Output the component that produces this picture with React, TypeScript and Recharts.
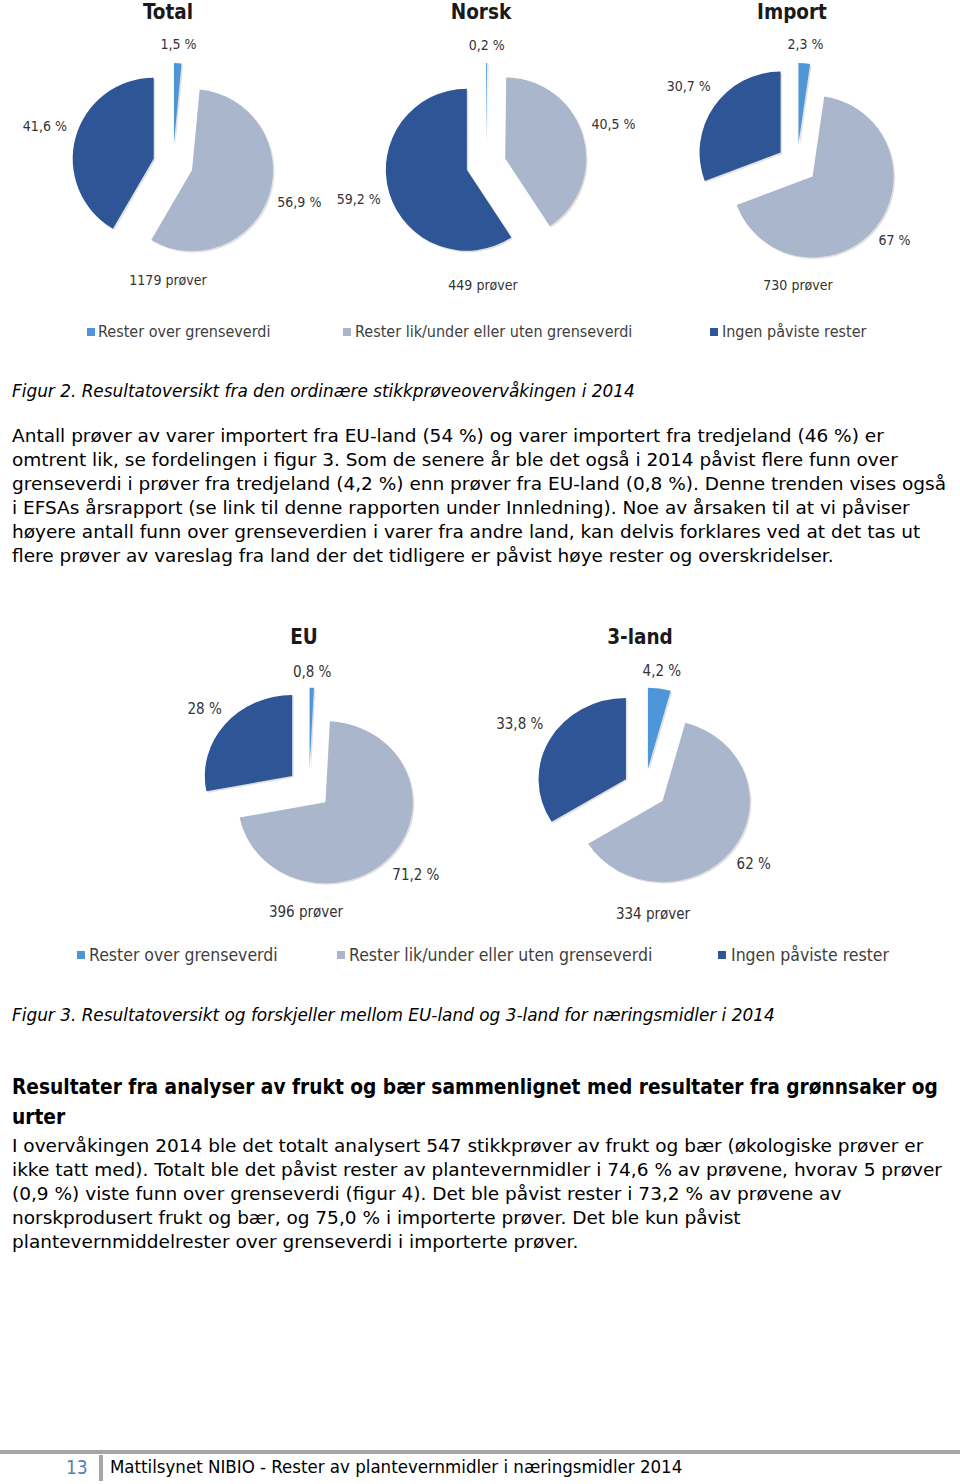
import React from 'react';
import { PieChart, Pie, Sector } from 'recharts';

// ---------- data ----------
const CATEGORIES = ['Rester over grenseverdi', 'Rester lik/under eller uten grenseverdi', 'Ingen påviste rester'];
const TOP_TITLES = ['Total', 'Norsk', 'Import'];
const TOTAL_VALUES = [1.5, 56.9, 41.6];
const NORSK_VALUES = [0.2, 40.5, 59.2];
const IMPORT_VALUES = [2.3, 67, 30.7];
const TOP_SAMPLES = [1179, 449, 730];

const BOTTOM_TITLES = ['EU', '3-land'];
const EU_VALUES = [0.8, 71.2, 28];
const TREDJELAND_VALUES = [4.2, 62, 33.8];
const BOTTOM_SAMPLES = [396, 334];

// ---------- styles ----------
const COLORS = ['#4e96d8', '#aab6cb', '#2e5596'];
const CHART_FONT = '"DejaVu Sans Condensed", "DejaVu Sans", sans-serif';
const BODY_FONT = '"DejaVu Sans", sans-serif';
const COND_FONT = '"DejaVu Sans Condensed", "DejaVu Sans", sans-serif';
const RAD = Math.PI / 180;

const fmt = (v: number) => `${String(v).replace('.', ',')} %`;
const toData = (vals: number[]) => vals.map((v, i) => ({ name: CATEGORIES[i], value: v }));

function makeLabel(explode: number, fontSize: number, sx: number, sy: number, lift: number) {
  return (p: any) => {
    const { cx, cy, outerRadius, startAngle, endAngle, midAngle, index, value } = p;
    const c = Math.cos(-midAngle * RAD);
    const s = Math.sin(-midAngle * RAD);
    const text = fmt(value);
    const halfW = text.length * fontSize * 0.27;
    const halfH = fontSize * 0.5;
    const R = outerRadius + explode + 8 + halfW * Math.abs(c) + halfH * Math.abs(s);
    const tf = `translate(${cx},${cy}) scale(${sx},${sy}) translate(${-cx},${-cy})`;
    return (
      <g key={`sl-${index}`}>
        <g transform={tf}>
          <Sector
            cx={cx + explode * c + 1.5}
            cy={cy + explode * s + 1.5}
            innerRadius={0}
            outerRadius={outerRadius}
            startAngle={startAngle}
            endAngle={endAngle}
            fill="#000"
            fillOpacity={0.12}
            stroke="none"
          />
          <Sector
            cx={cx + explode * c}
            cy={cy + explode * s}
            innerRadius={0}
            outerRadius={outerRadius}
            startAngle={startAngle}
            endAngle={endAngle}
            fill={COLORS[index]}
            stroke="none"
          />
        </g>
        <text
          x={cx + R * c * sx}
          y={cy + R * s * sy - lift}
          textAnchor="middle"
          dominantBaseline="central"
          fontFamily={CHART_FONT}
          fontSize={fontSize}
          fill="#333"
        >
          {text}
        </text>
      </g>
    );
  };
}

const TOP_SERIES = [TOTAL_VALUES, NORSK_VALUES, IMPORT_VALUES];
const TOP_CX = [168, 481, 792];
const BOTTOM_SERIES = [EU_VALUES, TREDJELAND_VALUES];
const BOTTOM_CX = [304, 640];

const abs = (style: React.CSSProperties): React.CSSProperties => ({ position: 'absolute', ...style });

function Legend({ top, fontSize, items }: { top: number; fontSize: number; items: { sq: number; tx: number }[] }) {
  return (
    <>
      {CATEGORIES.map((c, i) => (
        <React.Fragment key={c}>
          <div style={abs({ left: items[i].sq, top: top - 4, width: 8, height: 8, background: COLORS[i] })} />
          <div
            style={abs({
              left: items[i].tx,
              top: top - 12,
              height: 24,
              lineHeight: '24px',
              fontFamily: CHART_FONT,
              fontSize,
              color: '#404040',
              whiteSpace: 'nowrap',
            })}
          >
            {c}
          </div>
        </React.Fragment>
      ))}
    </>
  );
}

function Centered({ x, y, children, style }: { x: number; y: number; children: React.ReactNode; style?: React.CSSProperties }) {
  return (
    <div
      style={abs({
        left: x - 150,
        top: y - 15,
        width: 300,
        height: 30,
        lineHeight: '30px',
        textAlign: 'center',
        whiteSpace: 'nowrap',
        ...style,
      })}
    >
      {children}
    </div>
  );
}

function Line({ y, children, style }: { y: number; children: React.ReactNode; style?: React.CSSProperties }) {
  return (
    <div
      style={abs({
        left: 12,
        top: y - 12,
        height: 24,
        lineHeight: '24px',
        whiteSpace: 'nowrap',
        fontFamily: BODY_FONT,
        fontSize: 18.5,
        color: '#000',
        ...style,
      })}
    >
      {children}
    </div>
  );
}

const P1 = [
  'Antall prøver av varer importert fra EU-land (54 %) og varer importert fra tredjeland (46 %) er',
  'omtrent lik, se fordelingen i figur 3. Som de senere år ble det også i 2014 påvist flere funn over',
  'grenseverdi i prøver fra tredjeland (4,2 %) enn prøver fra EU-land (0,8 %). Denne trenden vises også',
  'i EFSAs årsrapport (se link til denne rapporten under Innledning). Noe av årsaken til at vi påviser',
  'høyere antall funn over grenseverdien i varer fra andre land, kan delvis forklares ved at det tas ut',
  'flere prøver av vareslag fra land der det tidligere er påvist høye rester og overskridelser.',
];
const P2 = [
  'I overvåkingen 2014 ble det totalt analysert 547 stikkprøver av frukt og bær (økologiske prøver er',
  'ikke tatt med). Totalt ble det påvist rester av plantevernmidler i 74,6 % av prøvene, hvorav 5 prøver',
  '(0,9 %) viste funn over grenseverdi (figur 4). Det ble påvist rester i 73,2 % av prøvene av',
  'norskprodusert frukt og bær, og 75,0 % i importerte prøver. Det ble kun påvist',
  'plantevernmiddelrester over grenseverdi i importerte prøver.',
];

export default function App() {
  const topLabel = makeLabel(20, 14, 1, 1, 3);
  const bottomLabel = makeLabel(21, 15, 1.04, 0.965, 0);
  return (
    <div style={{ position: 'absolute', left: 0, top: 0, width: 960, height: 1484, background: '#fff', overflow: 'hidden' }}>
      {/* Figure 2 */}
      <div style={abs({ left: 0, top: 0 })}>
        <PieChart width={960} height={300}>
          {TOP_SERIES.map((vals, k) => (
            <Pie
              key={TOP_TITLES[k]}
              data={toData(vals)}
              dataKey="value"
              nameKey="name"
              cx={TOP_CX[k]}
              cy={159}
              outerRadius={81}
              startAngle={90}
              endAngle={-270}
              fill="none"
              stroke="none"
              label={topLabel}
              labelLine={false}
              isAnimationActive={false}
            />
          ))}
        </PieChart>
      </div>
      {TOP_TITLES.map((t, k) => (
        <Centered key={t} x={TOP_CX[k]} y={12} style={{ fontFamily: CHART_FONT, fontWeight: 'bold', fontSize: 20.5, color: '#1a1a1a' }}>
          {t}
        </Centered>
      ))}
      {TOP_SAMPLES.map((n, k) => (
        <Centered key={n} x={TOP_CX[k] + [0, 2, 6][k]} y={[280, 285, 285][k]} style={{ fontFamily: CHART_FONT, fontSize: 14, color: '#333' }}>
          {`${n} prøver`}
        </Centered>
      ))}
      <Legend
        top={332}
        fontSize={16}
        items={[
          { sq: 87, tx: 98 },
          { sq: 343, tx: 355 },
          { sq: 710, tx: 722 },
        ]}
      />

      <Line y={391} style={{ fontStyle: 'italic', fontSize: 16.9 }}>
        Figur 2. Resultatoversikt fra den ordinære stikkprøveovervåkingen i 2014
      </Line>
      {P1.map((l, i) => (
        <Line key={i} y={436 + 24 * i}>
          {l}
        </Line>
      ))}

      {/* Figure 3 */}
      <div style={abs({ left: 0, top: 610 })}>
        <PieChart width={960} height={320}>
          {BOTTOM_SERIES.map((vals, k) => (
            <Pie
              key={BOTTOM_TITLES[k]}
              data={toData(vals)}
              dataKey="value"
              nameKey="name"
              cx={BOTTOM_CX[k]}
              cy={174}
              outerRadius={84}
              startAngle={90}
              endAngle={-270}
              fill="none"
              stroke="none"
              label={bottomLabel}
              labelLine={false}
              isAnimationActive={false}
            />
          ))}
        </PieChart>
      </div>
      {BOTTOM_TITLES.map((t, k) => (
        <Centered key={t} x={BOTTOM_CX[k]} y={637} style={{ fontFamily: CHART_FONT, fontWeight: 'bold', fontSize: 20.5, color: '#1a1a1a' }}>
          {t}
        </Centered>
      ))}
      {BOTTOM_SAMPLES.map((n, k) => (
        <Centered key={n} x={BOTTOM_CX[k] + [2, 13][k]} y={[912, 914][k]} style={{ fontFamily: CHART_FONT, fontSize: 15, color: '#333' }}>
          {`${n} prøver`}
        </Centered>
      ))}
      <Legend
        top={955}
        fontSize={17.5}
        items={[
          { sq: 77, tx: 89 },
          { sq: 337, tx: 349 },
          { sq: 718, tx: 731 },
        ]}
      />

      <Line y={1015} style={{ fontStyle: 'italic', fontSize: 16.9 }}>
        Figur 3. Resultatoversikt og forskjeller mellom EU-land og 3-land for næringsmidler i 2014
      </Line>
      <Line y={1087} style={{ fontFamily: COND_FONT, fontWeight: 'bold', fontSize: 20.7 }}>
        Resultater fra analyser av frukt og bær sammenlignet med resultater fra grønnsaker og
      </Line>
      <Line y={1117} style={{ fontFamily: COND_FONT, fontWeight: 'bold', fontSize: 20.7 }}>
        urter
      </Line>
      {P2.map((l, i) => (
        <Line key={i} y={1146 + 24 * i}>
          {l}
        </Line>
      ))}

      {/* Footer */}
      <div style={abs({ left: 0, top: 1450, width: 960, height: 4, background: '#a5a5a5' })} />
      <div style={abs({ left: 99, top: 1455, width: 4, height: 26, background: '#a5a5a5' })} />
      <Line y={1467} style={{ left: 66, fontFamily: COND_FONT, color: '#4f81bd', fontSize: 19 }}>
        13
      </Line>
      <Line y={1467} style={{ left: 110, fontFamily: COND_FONT, fontSize: 18.5 }}>
        Mattilsynet NIBIO - Rester av plantevernmidler i næringsmidler 2014
      </Line>
    </div>
  );
}
